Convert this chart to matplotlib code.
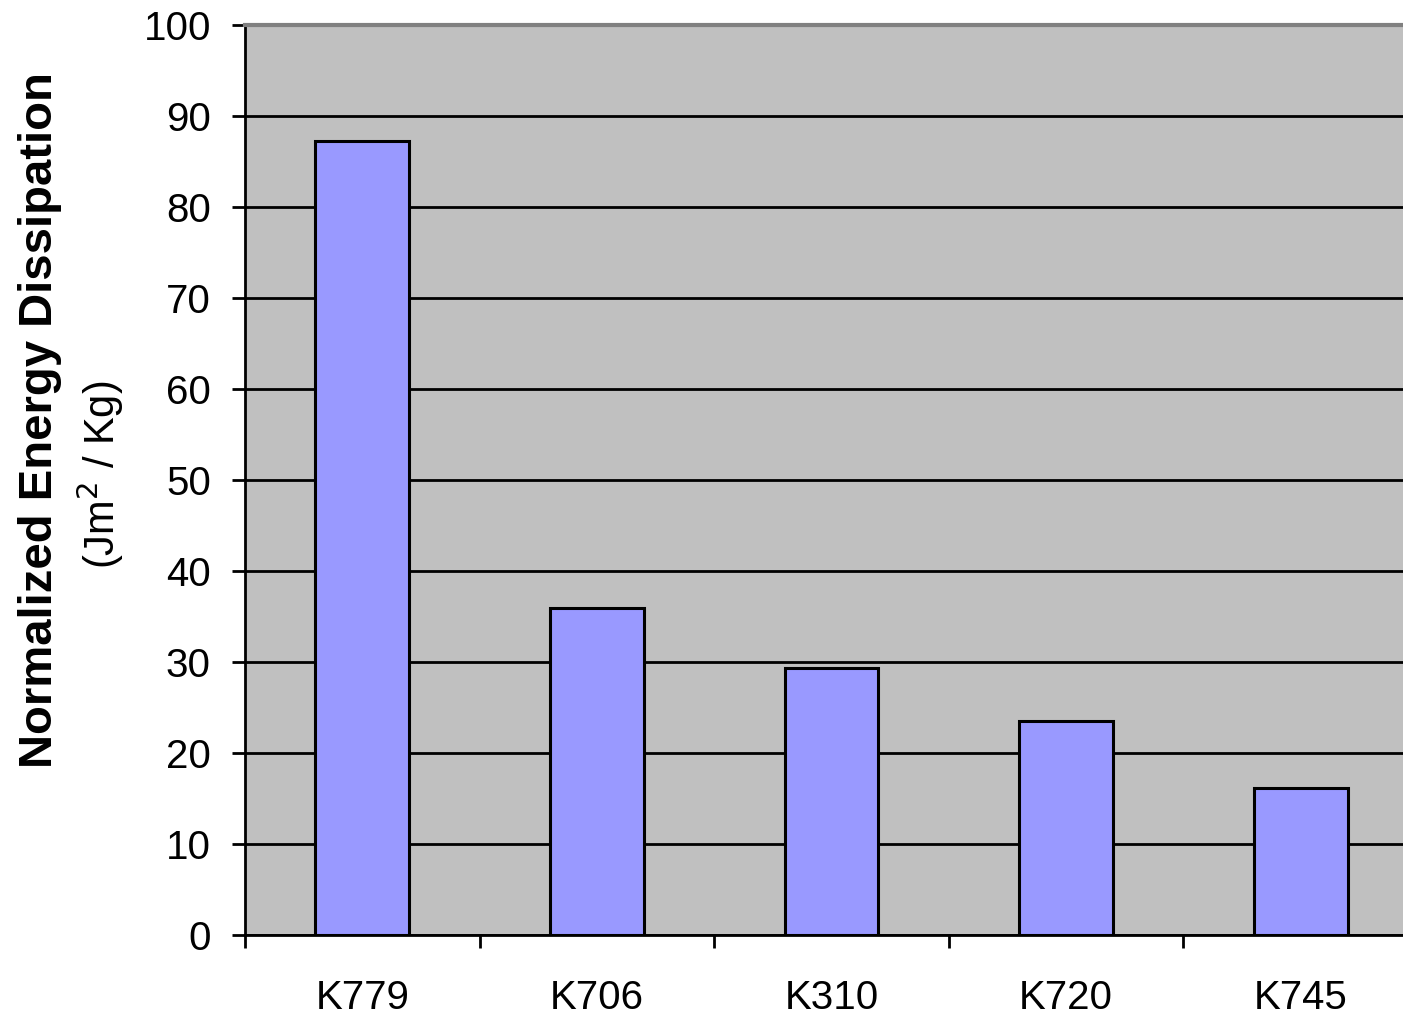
import matplotlib
matplotlib.use("Agg")
import matplotlib.pyplot as plt
import numpy as np

# Data
samples = ["K779", "K706", "K310", "K720", "K745"]
energy = [87.3, 35.9, 29.4, 23.5, 16.2]
y_ticks = [0, 10, 20, 30, 40, 50, 60, 70, 80, 90, 100]

plt.rcParams["font.family"] = ["Liberation Sans", "DejaVu Sans"]

fig = plt.figure(figsize=(14.03, 10.18), dpi=100)
ax = fig.add_axes([0.1746, 0.0815, 1.0 - 0.1746, 0.975 - 0.0815])

ax.set_facecolor("#C0C0C0")
x = np.arange(len(samples))
ax.set_axisbelow(True)
ax.yaxis.grid(True, color="black", linewidth=2.0)
ax.bar(x, energy, width=0.4, color="#9999FF", edgecolor="black", linewidth=2.2, zorder=3)

ax.set_ylim(0, 100)
ax.set_xlim(-0.5, 4.436)
ax.set_yticks(y_ticks)
ax.tick_params(axis="y", labelsize=29, length=9.5, width=2, direction="out", pad=15)

# Category boundaries get the ticks, names sit centred under each bar
ax.set_xticks(np.arange(len(samples)) - 0.5)
ax.set_xticklabels([])
ax.set_xticks(x, minor=True)
ax.set_xticklabels(samples, minor=True)
ax.tick_params(axis="x", which="major", length=9, width=2, direction="out")
ax.tick_params(axis="x", which="minor", length=0, labelsize=29, pad=32)

for side in ["left", "bottom"]:
    ax.spines[side].set_color("black")
    ax.spines[side].set_linewidth(2)
ax.spines["top"].set_color("#808080")
ax.spines["top"].set_linewidth(3)
ax.spines["right"].set_visible(False)

fig.text(0.0285, 0.5874, "Normalized Energy Dissipation", rotation=90,
         ha="center", va="center", fontsize=34, fontweight="bold")
fig.text(0.0713, 0.5334, "(Jm$^{2}$ / Kg)", rotation=90,
         ha="center", va="center", fontsize=30)

fig.savefig("out.png", dpi=100)
